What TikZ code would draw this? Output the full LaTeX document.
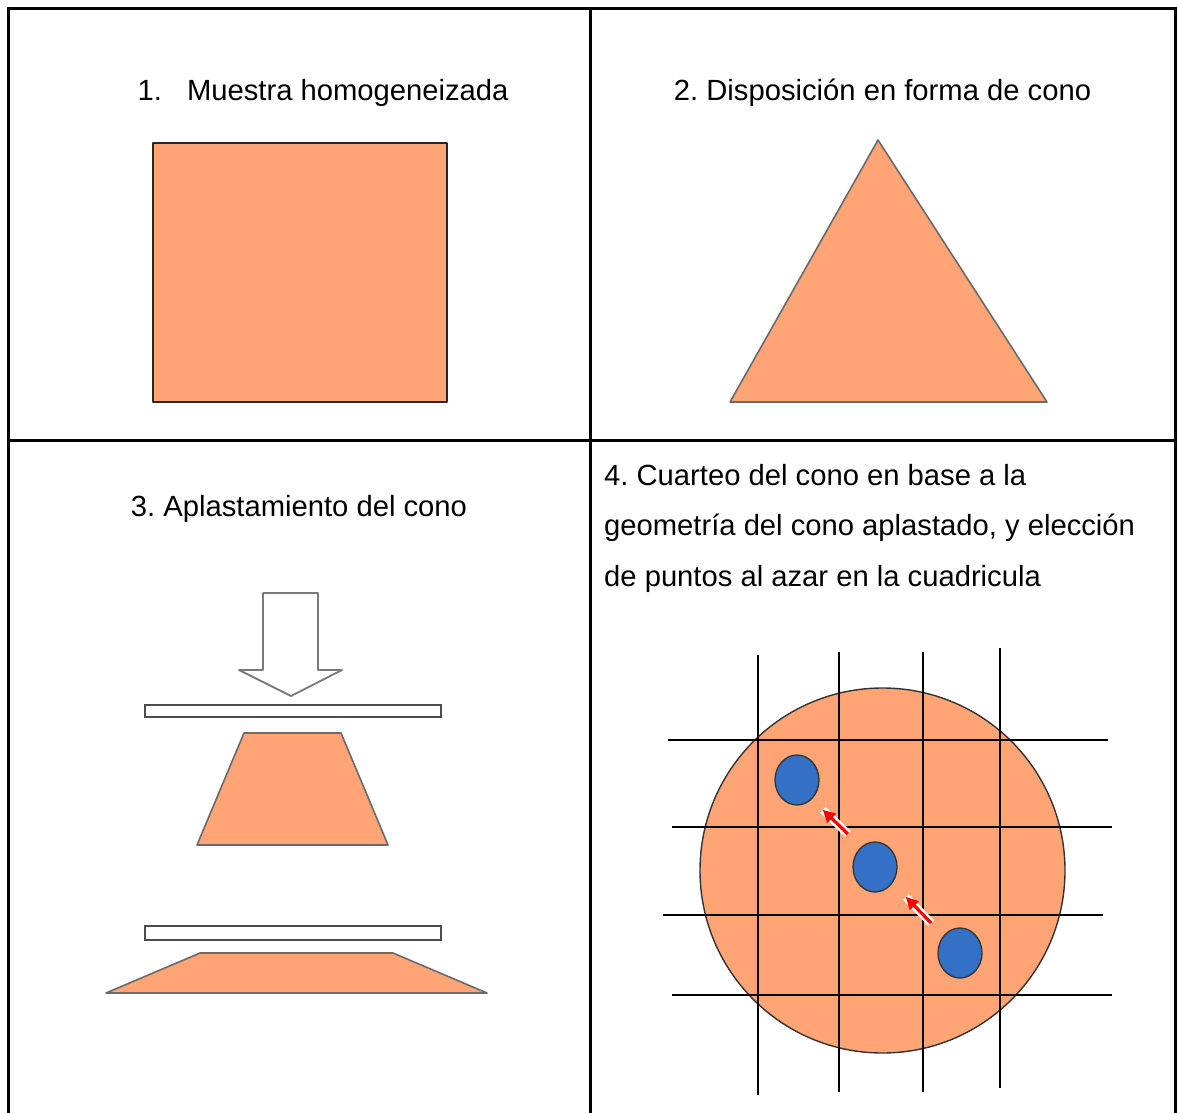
\documentclass[tikz,border=0pt]{standalone}
\usepackage{fontspec}
\setmainfont{Liberation Sans}
\usepackage{tikz}
\usetikzlibrary{arrows.meta, shapes.geometric, calc}
\definecolor{musalmon}{HTML}{FFA575}
\definecolor{mublue}{HTML}{3470C6}
\definecolor{mugray}{HTML}{6A6A6A}
\frenchspacing

\begin{document}
\begin{tikzpicture}[x=1pt, y=-1pt,
  cellline/.style={line width=3pt, black},
  title/.style={font=\fontsize{29.2}{35}\selectfont, anchor=base, inner sep=0pt},
  bodyline/.style={font=\fontsize{29.2}{35}\selectfont, anchor=base west, inner sep=0pt},
  sample/.style={fill=musalmon, draw=mugray, line width=1.6pt, line join=round},
  plate/.style={fill=white, draw=black!70, line width=1.8pt},
  pusharrow/.style={fill=white, draw=mugray!90, line width=1.8pt, line join=round},
  gridline/.style={line width=2pt, black},
  dot/.style={ellipse, fill=mublue, draw=black!80, line width=1.3pt, minimum width=44pt, minimum height=50pt, inner sep=0pt},
]
  \useasboundingbox (0,0) rectangle (1178,1113);

  % Table
  \draw[cellline] (8.5,1113) -- (8.5,9) -- (1175,9) -- (1175,1113);
  \draw[cellline] (590,9) -- (590,1113);
  \draw[cellline] (8.5,440) -- (1175,440);

  % 1. Sample
  \node[title] (t1) at (323,101) {1.\hspace{17pt} Muestra homogeneizada};
  \draw[sample, draw=black!85] (153,143) rectangle (447,402);

  % 2. Cone
  \node[title] (t2) at (882.5,101) {2. Disposición en forma de cono};
  \draw[sample] (878,140) -- (1047,402) -- (730,402) -- cycle;

  % 3. Flattening
  \node[title] (t3) at (299,516) {3. Aplastamiento del cono};
  \draw[pusharrow] (263,593) -- (318,593) -- (318,670) -- (342,670) -- (291,696)
    -- (239,670) -- (263,670) -- cycle;
  \draw[plate] (145,705) rectangle (441,717);
  \draw[sample] (244,733) -- (341,733) -- (388,845) -- (197,845) -- cycle;
  \draw[plate] (145,926) rectangle (441,940);
  \draw[sample] (200,953) -- (393,953) -- (487,993) -- (106,993) -- cycle;

  % 4. Quartering
  \foreach \y/\txt in {485/4. Cuarteo del cono en base a la,
                       535.5/{geometría del cono aplastado, y elección},
                       586/de puntos al azar en la cuadricula} {
    \node[bodyline] at (604,\y) {\txt};
  }
  \draw[fill=musalmon, draw=black!80, line width=1.4pt] (882.5,870.5) circle (182.5);

  % Grid
  \draw[gridline] (758,655) -- (758,1095);
  \draw[gridline] (839,652) -- (839,1092);
  \draw[gridline] (923,652) -- (923,1092);
  \draw[gridline] (1000,648) -- (1000,1088);
  \draw[gridline] (668,740) -- (1108,740);
  \draw[gridline] (672,827) -- (1112,827);
  \draw[gridline] (663,915) -- (1103,915);
  \draw[gridline] (672,995) -- (1112,995);

  % Chosen points
  \node[dot] (d1) at (797,780) {};
  \node[dot] (d2) at (875,867) {};
  \node[dot] (d3) at (960,953) {};

  \coordinate (a1s) at (848,834);
  \coordinate (a1e) at (823,810);
  \coordinate (a2s) at (931,923);
  \coordinate (a2e) at (906,897);
  \foreach \s/\e in {a1s/a1e, a2s/a2e} {
    \draw[white, line width=8pt] (\s) -- (\e);
    \coordinate (h) at ($(\e)!12pt!(\s)$);
    \fill[red] (\e) -- ($(h)!6.5pt!90:(\s)$) -- ($(h)!1.6pt!90:(\s)$)
      -- ($(\s)!1.6pt!-90:(h)$) -- ($(\s)!1.6pt!90:(h)$)
      -- ($(h)!1.6pt!-90:(\s)$) -- ($(h)!6.5pt!-90:(\s)$) -- cycle;
  }
\end{tikzpicture}
\end{document}
